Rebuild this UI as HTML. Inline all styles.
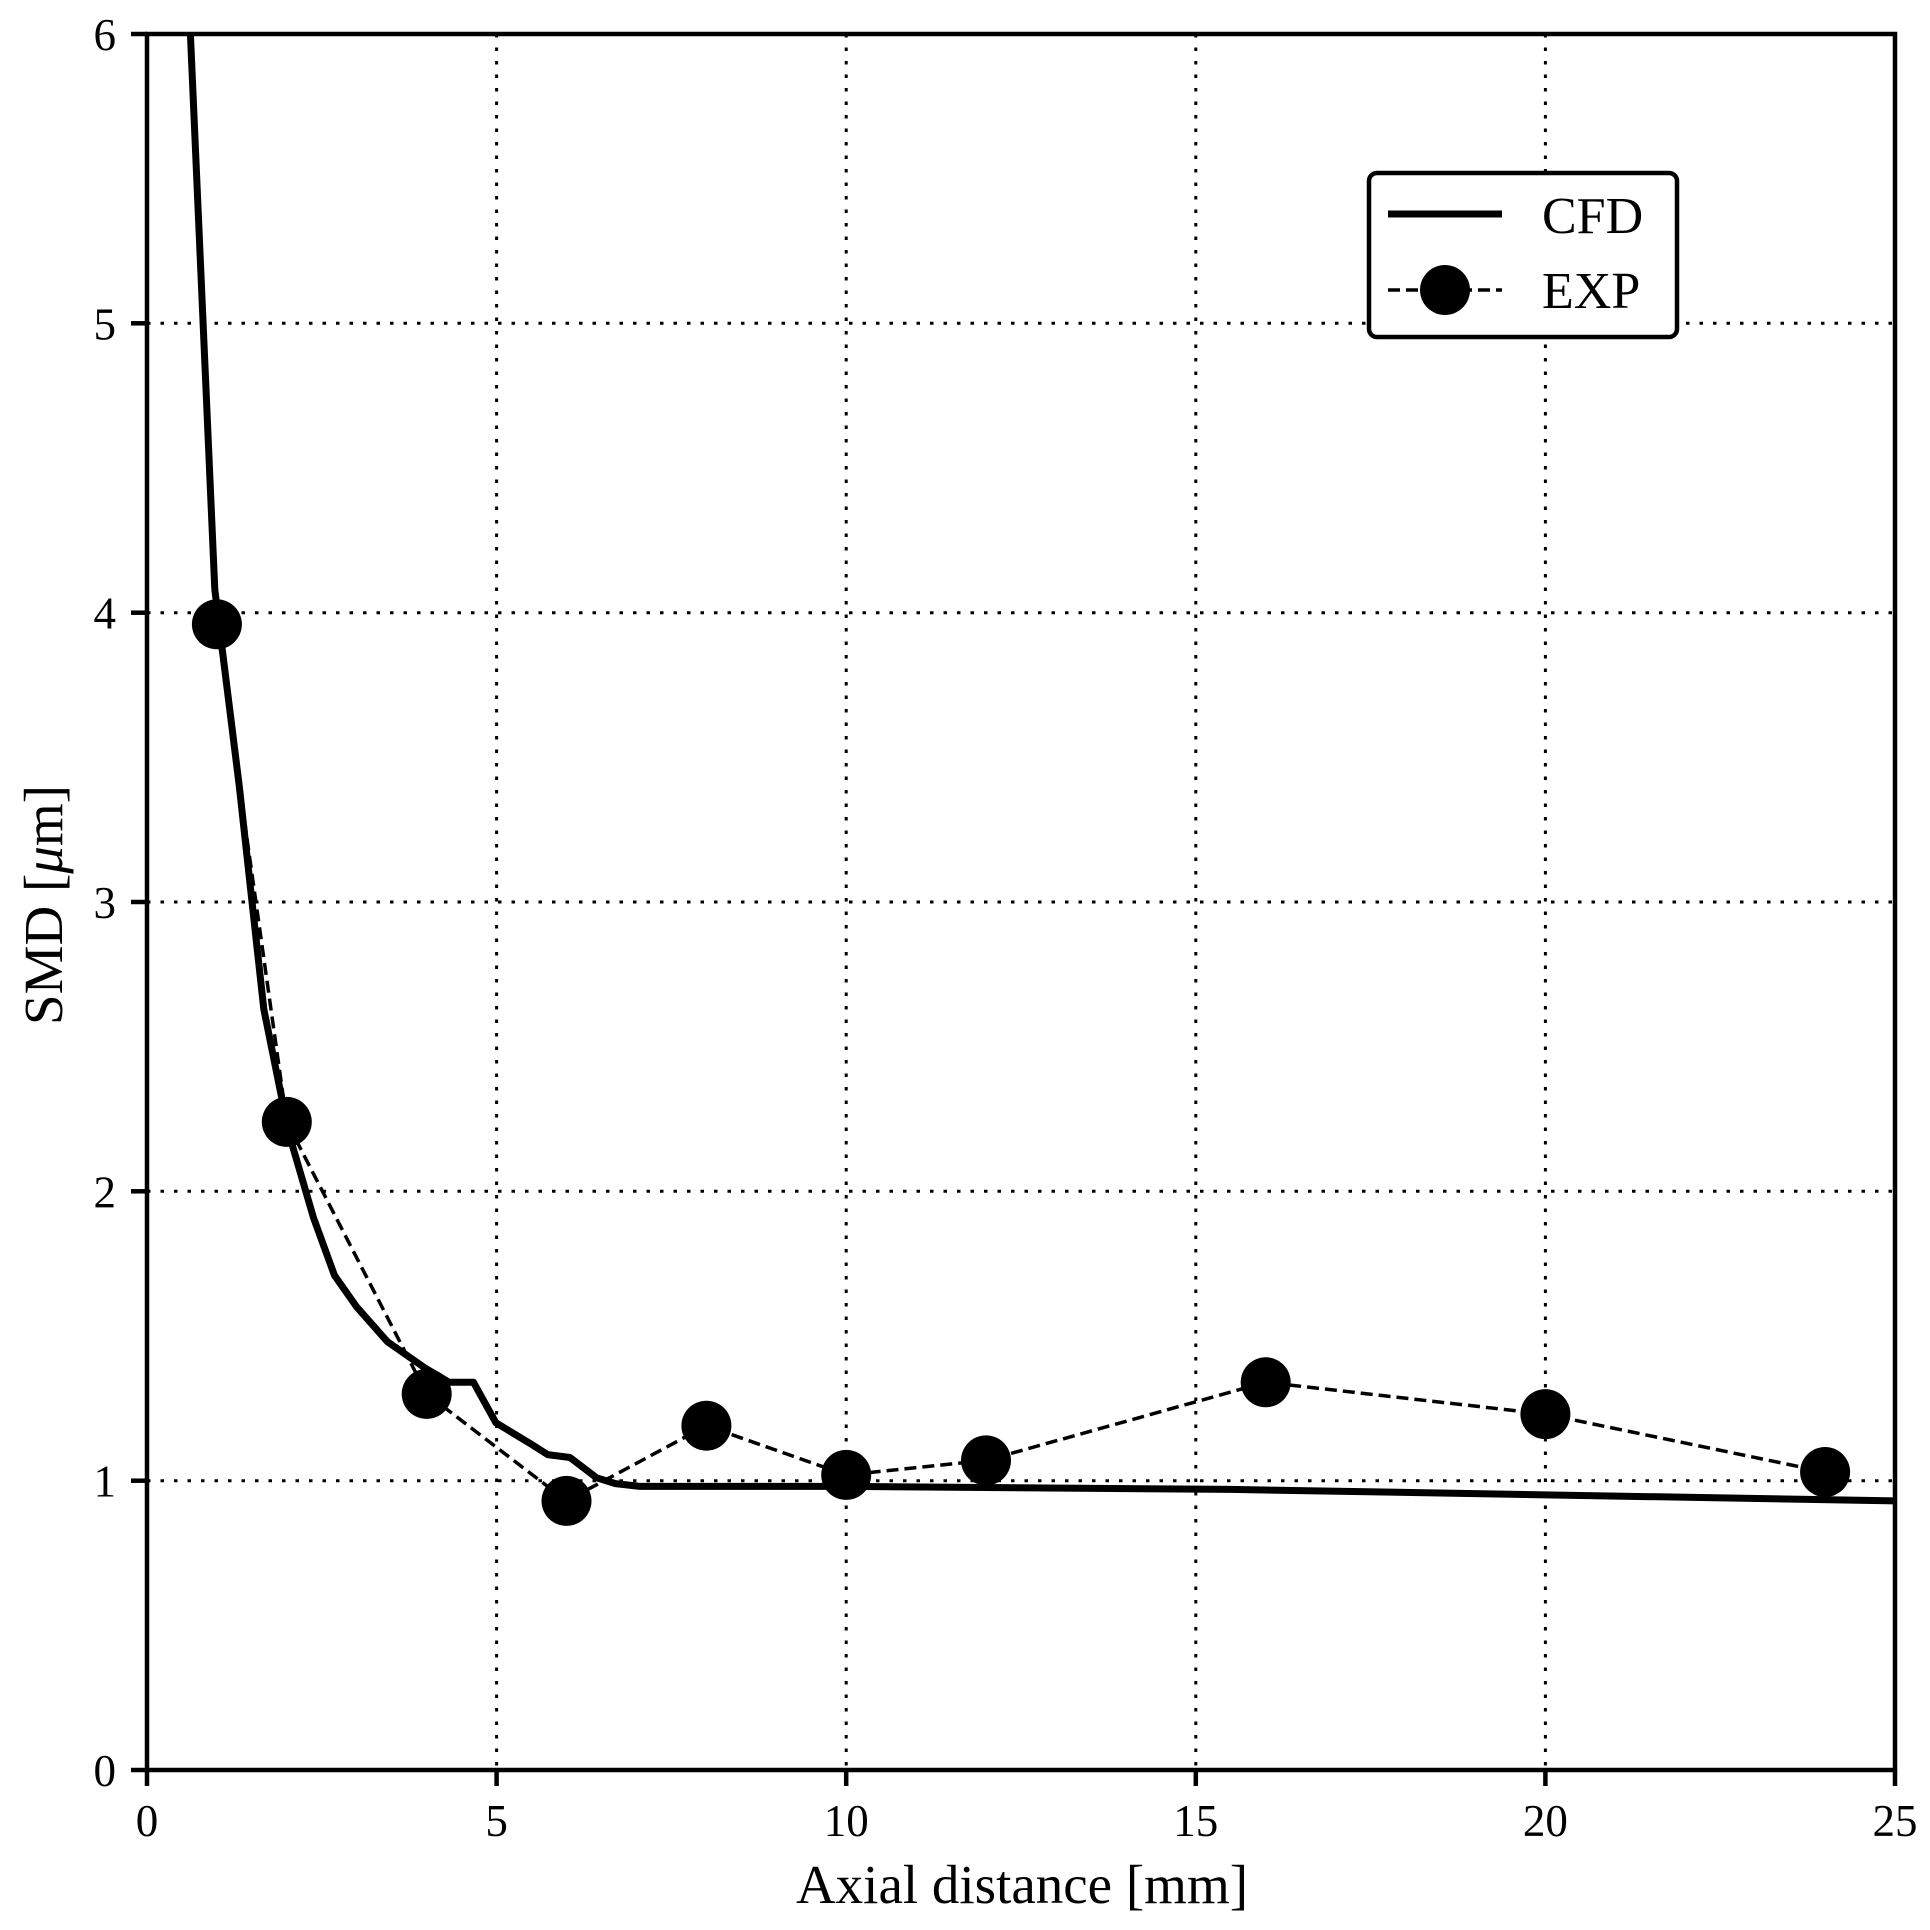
<!DOCTYPE html>
<html><head><meta charset="utf-8"><style>html,body{margin:0;padding:0;background:#fff}svg{display:block}</style></head>
<body>
<svg width="1930" height="1930" viewBox="0 0 1930 1930" xmlns="http://www.w3.org/2000/svg" font-family="Liberation Serif, serif">
<rect width="1930" height="1930" fill="#fff"/>
<g stroke="#000" stroke-width="3" stroke-dasharray="3.5,10" fill="none">
<line x1="496.6" y1="34" x2="496.6" y2="1770"/>
<line x1="846.2" y1="34" x2="846.2" y2="1770"/>
<line x1="1195.8" y1="34" x2="1195.8" y2="1770"/>
<line x1="1545.4" y1="34" x2="1545.4" y2="1770"/>
<line x1="147" y1="1480.7" x2="1895" y2="1480.7"/>
<line x1="147" y1="1191.3" x2="1895" y2="1191.3"/>
<line x1="147" y1="902" x2="1895" y2="902"/>
<line x1="147" y1="612.7" x2="1895" y2="612.7"/>
<line x1="147" y1="323.3" x2="1895" y2="323.3"/>
</g>
<polyline fill="none" stroke="#000" stroke-width="3.5" stroke-dasharray="12,6" points="216.9,624.3 286.8,1121.9 426.7,1393.9 566.5,1500.9 706.4,1425.7 846.2,1474.9 986,1460.4 1265.7,1382.3 1545.4,1414.1 1825.1,1472"/>
<polyline fill="none" stroke="#000" stroke-width="7" stroke-linejoin="round" points="190.4,34 214.8,589.5 239.3,786.3 263.8,1009.1 288.9,1133.5 313.4,1217.4 334.4,1275.2 356.8,1307.1 387.5,1341.8 424.6,1367.8 449.1,1382.3 473.5,1382.3 495.9,1422.8 529.5,1443.1 547.6,1454.6 570,1457.5 596.6,1477.8 615.5,1483.6 639.9,1486.4 846.2,1486.4 1230.8,1489.4 1895,1500.9"/>
<g fill="#000">
<circle cx="216.9" cy="624.3" r="25"/><circle cx="286.8" cy="1121.9" r="25"/><circle cx="426.7" cy="1393.9" r="25"/><circle cx="566.5" cy="1500.9" r="25"/><circle cx="706.4" cy="1425.7" r="25"/><circle cx="846.2" cy="1474.9" r="25"/><circle cx="986" cy="1460.4" r="25"/><circle cx="1265.7" cy="1382.3" r="25"/><circle cx="1545.4" cy="1414.1" r="25"/><circle cx="1825.1" cy="1472" r="25"/>
</g>
<rect x="147" y="34" width="1748" height="1736" fill="none" stroke="#000" stroke-width="4.5"/>
<g stroke="#000" stroke-width="4.5">
<line x1="147" y1="1770" x2="147" y2="1786"/><line x1="496.6" y1="1770" x2="496.6" y2="1786"/><line x1="846.2" y1="1770" x2="846.2" y2="1786"/><line x1="1195.8" y1="1770" x2="1195.8" y2="1786"/><line x1="1545.4" y1="1770" x2="1545.4" y2="1786"/><line x1="1895" y1="1770" x2="1895" y2="1786"/>
<line x1="131" y1="1770" x2="147" y2="1770"/><line x1="131" y1="1480.7" x2="147" y2="1480.7"/><line x1="131" y1="1191.3" x2="147" y2="1191.3"/><line x1="131" y1="902" x2="147" y2="902"/><line x1="131" y1="612.7" x2="147" y2="612.7"/><line x1="131" y1="323.3" x2="147" y2="323.3"/><line x1="131" y1="34" x2="147" y2="34"/>
</g>
<g font-size="45" text-anchor="middle" fill="#000">
<text x="147" y="1836">0</text><text x="496.6" y="1836">5</text><text x="846.2" y="1836">10</text><text x="1195.8" y="1836">15</text><text x="1545.4" y="1836">20</text><text x="1895" y="1836">25</text>
</g>
<g font-size="45" text-anchor="end" fill="#000">
<text x="116" y="1786">0</text><text x="116" y="1496.7">1</text><text x="116" y="1207.3">2</text><text x="116" y="918">3</text><text x="116" y="628.7">4</text><text x="116" y="339.3">5</text><text x="116" y="50">6</text>
</g>
<text x="1022" y="1903" font-size="55" text-anchor="middle">Axial distance [mm]</text>
<text transform="translate(62,905) rotate(-90)" font-size="55" text-anchor="middle">SMD [<tspan font-style="italic">μ</tspan>m]</text>
<rect x="1369" y="173" width="308" height="164" rx="8" fill="#fff" stroke="#000" stroke-width="4.5"/>
<line x1="1388" y1="214" x2="1502" y2="214" stroke="#000" stroke-width="7"/>
<line x1="1388" y1="290" x2="1502" y2="290" stroke="#000" stroke-width="3.5" stroke-dasharray="12,6"/>
<circle cx="1445" cy="290" r="25" fill="#000"/>
<text x="1542" y="233" font-size="52">CFD</text>
<text x="1542" y="308" font-size="52">EXP</text>
</svg>
</body></html>
